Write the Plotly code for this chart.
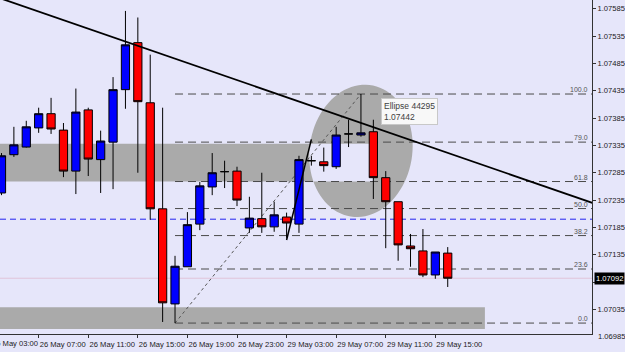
import numpy as np
import plotly.graph_objects as go

# ---------------- data (H1 bars, index 0 = 26 May 04:00) ----------------
bar_index = list(range(37))
opens = [1.07248, 1.07318, 1.07332, 1.07367, 1.07393, 1.07363, 1.07288, 1.07400, 1.07309, 1.07341,
         1.07437, 1.07523, 1.07413, 1.07219, 1.07045, 1.07113, 1.07191, 1.07259, 1.07287, 1.07288,
         1.07184, 1.07201, 1.07186, 1.07204, 1.07191, 1.07307, 1.07305, 1.07296, 1.07356, 1.07354,
         1.07360, 1.07276, 1.07232, 1.07151, 1.07142, 1.07098, 1.07138]
highs = [1.07321, 1.07369, 1.07380, 1.07404, 1.07422, 1.07376, 1.07439, 1.07404, 1.07362, 1.07460,
         1.07581, 1.07569, 1.07501, 1.07404, 1.07133, 1.07213, 1.07268, 1.07321, 1.07307, 1.07296,
         1.07241, 1.07285, 1.07232, 1.07212, 1.07316, 1.07316, 1.07331, 1.07369, 1.07382, 1.07429,
         1.07382, 1.07288, 1.07232, 1.07173, 1.07182, 1.07140, 1.07149]
lows = [1.07244, 1.07314, 1.07331, 1.07358, 1.07356, 1.07277, 1.07246, 1.07279, 1.07248, 1.07255,
        1.07402, 1.07285, 1.07199, 1.07012, 1.07010, 1.07113, 1.07180, 1.07244, 1.07257, 1.07224,
        1.07175, 1.07175, 1.07177, 1.07166, 1.07175, 1.07298, 1.07287, 1.07292, 1.07332, 1.07351,
        1.07237, 1.07147, 1.07124, 1.07113, 1.07094, 1.07091, 1.07076]
closes = [1.07316, 1.07336, 1.07369, 1.07393, 1.07365, 1.07288, 1.07396, 1.07310, 1.07343, 1.07437,
          1.07519, 1.07415, 1.07219, 1.07047, 1.07114, 1.07190, 1.07261, 1.07285, 1.07287, 1.07235,
          1.07202, 1.07186, 1.07208, 1.07193, 1.07309, 1.07307, 1.07298, 1.07354, 1.07356, 1.07358,
          1.07276, 1.07232, 1.07153, 1.07146, 1.07098, 1.07140, 1.07092]

x_tick_index = [3, 7, 11, 15, 19, 23, 27, 31, 35]
x_tick_text = ["26 May 07:00", "26 May 11:00", "26 May 15:00", "26 May 19:00", "26 May 23:00",
               "29 May 03:00", "29 May 07:00", "29 May 11:00", "29 May 15:00"]
x_cut_label_index = -1
x_cut_label = "26 May 03:00"

y_tick_values = [1.07035, 1.07085, 1.07135, 1.07185, 1.07235, 1.07285, 1.07335,
                 1.07385, 1.07435, 1.07485, 1.07535, 1.07585]
y_hidden_tick = 1.07085          # covered by the bid price box
y_bottom_label = 1.06985
bid_price = 1.07092

# objects
fib_low_index, fib_low = 14, 1.07010
fib_high_index, fib_high = 29, 1.07429
fib_ratios = [0.0, 0.236, 0.382, 0.5, 0.618, 0.79, 1.0]
fib_labels = ["0.0", "23.6", "38.2", "50.0", "61.8", "79.0", "100.0"]

trend_pts = [(10, 1.07525), (40, 1.07290)]
steep_pts = [(23, 1.07162), (25, 1.07346)]
hline_blue = 1.07200

band_upper = dict(x0=-2, x1=30, y0=1.07269, y1=1.07338)
band_lower = dict(x0=-2, x1=39, y0=1.06999, y1=1.07039)
ellipse = dict(cx=29.0, cy=1.07325, rx=4.16, ry=0.00121, shear=0.32)
tooltip = dict(x=30.6, y=1.07422, text="Ellipse 44295<br>1.07442")

x_range = [-0.12, 47.64]
y_range = [1.06990, 1.07601]

BG = "#E6E6FA"
GRAY = "#AAAAAA"
FONT = "Liberation Sans"
TXT = "#1A1A1A"


def xpaper(v):
    return (v - x_range[0]) / (x_range[1] - x_range[0])


def ypaper(v):
    return (v - y_range[0]) / (y_range[1] - y_range[0])


fig = go.Figure()
fig.add_trace(go.Candlestick(
    x=bar_index, open=opens, high=highs, low=lows, close=closes,
    increasing=dict(fillcolor="#0000FF", line=dict(color="#000000", width=1)),
    decreasing=dict(fillcolor="#FF0000", line=dict(color="#000000", width=1)),
    whiskerwidth=0, showlegend=False, hoverinfo="skip"))

shapes = []
# rectangle XOR ellipse (evenodd fill)
t = np.linspace(0, 2 * np.pi, 90)
ex = ellipse["cx"] + ellipse["rx"] * np.cos(t) + ellipse["shear"] * np.sin(t)
ey = ellipse["cy"] + ellipse["ry"] * np.sin(t)
ell_path = "M" + " L".join(f"{a:.4f},{b:.6f}" for a, b in zip(ex, ey)) + " Z"
bu = band_upper
rect_path = (f"M{bu['x0']},{bu['y0']} L{bu['x1']},{bu['y0']} L{bu['x1']},{bu['y1']} "
             f"L{bu['x0']},{bu['y1']} Z")
shapes.append(dict(type="path", path=rect_path + " " + ell_path, xref="x", yref="y",
                   fillcolor=GRAY, fillrule="evenodd", line=dict(width=0), layer="below"))
bl = band_lower
shapes.append(dict(type="rect", xref="x", yref="y", x0=bl["x0"], x1=bl["x1"], y0=bl["y0"], y1=bl["y1"],
                   fillcolor=GRAY, line=dict(width=0), layer="below"))

# bid line and blue horizontal line
shapes.append(dict(type="line", xref="paper", yref="y", x0=0, x1=1, y0=bid_price, y1=bid_price,
                   line=dict(color="#E0C4DA", width=1), layer="below"))
shapes.append(dict(type="line", xref="paper", yref="y", x0=0, x1=1, y0=hline_blue, y1=hline_blue,
                   line=dict(color="#2323F0", width=1, dash="6px,4px"), layer="below"))

# fibonacci levels
for r in fib_ratios:
    lvl = fib_low + (fib_high - fib_low) * r
    shapes.append(dict(type="line", xref="x", yref="y", x0=fib_low_index, x1=x_range[1] + 1,
                       y0=lvl, y1=lvl, line=dict(color="#4A4A4A", width=1, dash="8px,5px"),
                       layer="below"))
shapes.append(dict(type="line", xref="x", yref="y", x0=fib_low_index, x1=fib_high_index,
                   y0=fib_low, y1=fib_high, line=dict(color="#555555", width=1, dash="3px,3px"),
                   layer="below"))

# trend line (extended both ways)
(xa, ya), (xb, yb) = trend_pts
slope = (yb - ya) / (xb - xa)
xl, xr = -2, 50
shapes.append(dict(type="line", xref="x", yref="y", x0=xl, x1=xr,
                   y0=ya + slope * (xl - xa), y1=ya + slope * (xr - xa),
                   line=dict(color="#000000", width=1.8), layer="above"))
(sa, sya), (sb, syb) = steep_pts
shapes.append(dict(type="line", xref="x", yref="y", x0=sa, x1=sb, y0=sya, y1=syb,
                   line=dict(color="#000000", width=1.5), layer="above"))

annotations = []
for r, lab in zip(fib_ratios, fib_labels):
    lvl = fib_low + (fib_high - fib_low) * r
    annotations.append(dict(xref="paper", yref="y", x=0.9966, y=lvl, text=lab, showarrow=False,
                            xanchor="right", yanchor="bottom", yshift=-1,
                            font=dict(family=FONT, size=7, color="#555555")))
annotations.append(dict(xref="x", yref="y", x=tooltip["x"], y=tooltip["y"], text=tooltip["text"],
                        showarrow=False, xanchor="left", yanchor="top", align="left",
                        bgcolor="#F8F8F8", bordercolor="#C8C8C8", borderwidth=1, borderpad=2,
                        font=dict(family=FONT, size=8.5, color="#404040")))
annotations.append(dict(xref="paper", yref="y", x=1, y=bid_price, text=f"{bid_price:.5f}",
                        showarrow=False, xanchor="left", yanchor="middle", xshift=2,
                        bgcolor="#000000", borderpad=1,
                        font=dict(family=FONT, size=7.6, color="#FFFFFF")))
annotations.append(dict(xref="paper", yref="paper", x=1, y=ypaper(y_bottom_label),
                        text=f"{y_bottom_label:.5f}",
                        showarrow=False, xanchor="left", yanchor="middle", xshift=4,
                        font=dict(family=FONT, size=7.6, color=TXT)))
annotations.append(dict(xref="paper", yref="paper", x=xpaper(x_cut_label_index), y=0,
                        text=x_cut_label, showarrow=False, xanchor="left", yanchor="top",
                        xshift=1, yshift=-3,
                        font=dict(family=FONT, size=7.6, color=TXT)))

fig.update_layout(
    width=625, height=352,
    margin=dict(l=0, r=28, t=0, b=18),
    paper_bgcolor=BG, plot_bgcolor=BG,
    boxgap=0.336, boxgroupgap=0,
    shapes=shapes, annotations=annotations,
    showlegend=False,
    xaxis=dict(range=x_range, tickvals=x_tick_index, ticktext=x_tick_text,
               showgrid=False, zeroline=False, rangeslider=dict(visible=False),
               showline=True, linecolor="#333333", linewidth=1,
               ticks="outside", ticklen=3, tickcolor="#333333",
               ticklabelshift=24, ticklabelstandoff=0,
               tickfont=dict(family=FONT, size=7.6, color=TXT)),
    yaxis=dict(range=y_range, side="right", tickvals=y_tick_values,
               ticktext=["" if v == y_hidden_tick else f"{v:.5f}" for v in y_tick_values],
               showgrid=False, zeroline=False,
               showline=True, linecolor="#333333", linewidth=1,
               ticks="outside", ticklen=3, tickcolor="#333333",
               tickfont=dict(family=FONT, size=7.6, color=TXT)),
)

fig.write_html("out.html")
